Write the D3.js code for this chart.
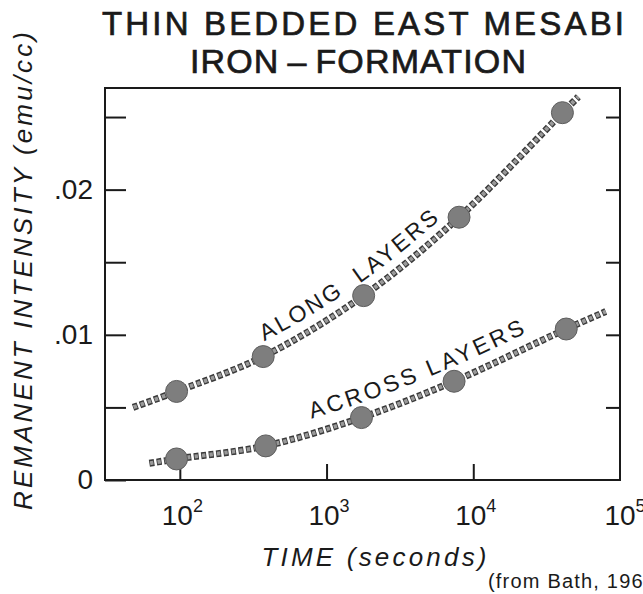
<html>
<head>
<meta charset="utf-8">
<title>Thin bedded East Mesabi iron-formation</title>
<style>
  body { margin: 0; background: #fff; }
  text { font-family: "Liberation Sans", "DejaVu Sans", sans-serif; fill: #1a1a1a; }
</style>
</head>
<body>
<script src="https://cdn.jsdelivr.net/npm/d3@7"></script>
<script>
var width = 643, height = 594;

// measured points (seconds, emu/cc)
var alongTime = [95, 370, 1790, 8000, 40500];
var alongValue = [0.0061, 0.0085, 0.0127, 0.0181, 0.0253];
var acrossTime = [95, 385, 1730, 7400, 43000];
var acrossValue = [0.00145, 0.00235, 0.0043, 0.0068, 0.0104];
// ends of the drawn curves
var alongEndsTime = [48, 52000];
var alongEndsValue = [0.0050, 0.0264];
var acrossEndsTime = [62, 80000];
var acrossEndsValue = [0.00115, 0.0116];

var yTicks = [0, 0.005, 0.01, 0.015, 0.02, 0.025];
var yLabels = ["0", "", ".01", "", ".02", ""];
var xTicks = [100, 1000, 10000];
var xExp = ["2", "3", "4"];

var svg = d3.select("body").append("svg")
    .attr("width", width)
    .attr("height", height);

var x = d3.scaleLog().domain([Math.pow(10, 1.49), 1e5]).range([105, 620]);
var y = d3.scaleLinear().domain([0, 0.027]).range([480, 88]);

// title
svg.append("text").attr("x", 363).attr("y", 35)
    .attr("text-anchor", "middle")
    .attr("font-size", 33)
    .attr("stroke", "#1a1a1a").attr("stroke-width", 0.7)
    .attr("textLength", 522).attr("lengthAdjust", "spacing")
    .text("THIN BEDDED EAST MESABI");
svg.append("text").attr("x", 358).attr("y", 73)
    .attr("text-anchor", "middle")
    .attr("font-size", 34)
    .attr("stroke", "#1a1a1a").attr("stroke-width", 0.7)
    .attr("textLength", 336).attr("lengthAdjust", "spacing")
    .text("IRON\u2009\u2013\u2009FORMATION");

// frame
svg.append("rect")
    .attr("x", 105).attr("y", 88)
    .attr("width", 515).attr("height", 392)
    .attr("fill", "none").attr("stroke", "#1a1a1a").attr("stroke-width", 2);

// axes
var yAxis = d3.axisLeft(y).tickValues(yTicks)
    .tickSizeInner(-21).tickSizeOuter(0).tickPadding(12)
    .tickFormat(function(d, i) { return yLabels[i]; });
var gy = svg.append("g").attr("transform", "translate(105,0)").call(yAxis);
gy.select(".domain").remove();
gy.selectAll(".tick line").attr("stroke", "#1a1a1a").attr("stroke-width", 2);
gy.selectAll(".tick text").attr("font-size", 28).attr("font-family", "Liberation Sans")
    .attr("fill", "#1a1a1a");

var yAxisR = d3.axisRight(y).tickValues(yTicks.slice(1))
    .tickSizeInner(-14).tickSizeOuter(0).tickFormat("");
var gr = svg.append("g").attr("transform", "translate(620,0)").call(yAxisR);
gr.select(".domain").remove();
gr.selectAll(".tick line").attr("stroke", "#1a1a1a").attr("stroke-width", 2);

var xAxis = d3.axisBottom(x).tickValues(xTicks)
    .tickSizeInner(-16).tickSizeOuter(0).tickFormat("");
var gx = svg.append("g").attr("transform", "translate(0,480)").call(xAxis);
gx.select(".domain").remove();
gx.selectAll(".tick line").attr("stroke", "#1a1a1a").attr("stroke-width", 2);
gx.selectAll(".tick text").remove();
gx.selectAll(".tick").each(function(d, i) {
  var t = d3.select(this).append("text")
      .attr("y", 45).attr("x", 2)
      .attr("text-anchor", "middle")
      .attr("font-size", 28)
      .attr("fill", "#1a1a1a");
  t.append("tspan").text("10");
  t.append("tspan").attr("font-size", 18).attr("dy", -13).text(xExp[i]);
});
// 10^5 sits on the right edge
var t5 = svg.append("text").attr("x", x(1e5) + 5).attr("y", 525)
    .attr("text-anchor", "middle").attr("font-size", 28);
t5.append("tspan").text("10");
t5.append("tspan").attr("font-size", 18).attr("dy", -13).text("5");

// axis titles
svg.append("text")
    .attr("transform", "translate(32,271) rotate(-90)")
    .attr("text-anchor", "middle")
    .attr("font-size", 26).attr("font-style", "italic")
    .attr("textLength", 478).attr("lengthAdjust", "spacing")
    .text("REMANENT INTENSITY (emu/cc)");
svg.append("text")
    .attr("x", 374).attr("y", 566)
    .attr("text-anchor", "middle")
    .attr("font-size", 26).attr("font-style", "italic")
    .attr("textLength", 225).attr("lengthAdjust", "spacing")
    .text("TIME (seconds)");
svg.append("text")
    .attr("x", 488).attr("y", 588)
    .attr("font-size", 20).attr("letter-spacing", 1.2)
    .text("(from Bath, 1967)");

// curves
function curvePoints(ts, vs, endT, endV) {
  var pts = ts.map(function(t, i) { return { t: t, v: vs[i] }; });
  pts.unshift({ t: endT[0], v: endV[0] });
  pts.push({ t: endT[1], v: endV[1] });
  return pts;
}
var series = [
  { name: "along", label: "ALONG\u00a0\u00a0LAYERS", startX: 264, size: 23, spacing: 2.6,
    line: curvePoints(alongTime, alongValue, alongEndsTime, alongEndsValue),
    pts: alongTime.map(function(t, i) { return { t: t, v: alongValue[i] }; }) },
  { name: "across", label: "ACROSS LAYERS", startX: 311, size: 23, spacing: 3.2,
    line: curvePoints(acrossTime, acrossValue, acrossEndsTime, acrossEndsValue),
    pts: acrossTime.map(function(t, i) { return { t: t, v: acrossValue[i] }; }) }
];

var line = d3.line()
    .x(function(d) { return x(d.t); })
    .y(function(d) { return y(d.v); })
    .curve(d3.curveCatmullRom.alpha(0.5));
var lineUp = d3.line()
    .x(function(d) { return x(d.t); })
    .y(function(d) { return y(d.v) - 15; })
    .curve(d3.curveCatmullRom.alpha(0.5));

series.forEach(function(s) {
  svg.append("path").attr("d", line(s.line))
      .attr("fill", "none").attr("stroke", "#3a3a3a")
      .attr("stroke-width", 7).attr("stroke-dasharray", "5 2.5");
  svg.append("path").attr("d", line(s.line))
      .attr("fill", "none").attr("stroke", "#9a9a9a")
      .attr("stroke-width", 4).attr("stroke-dasharray", "3.4 4.1")
      .attr("stroke-dashoffset", -0.8);

  svg.selectAll("circle." + s.name)
    .data(s.pts)
    .enter()
    .append("circle")
      .attr("class", s.name)
      .attr("cx", function(d) { return x(d.t); })
      .attr("cy", function(d) { return y(d.v); })
      .attr("r", 11)
      .attr("fill", "#7e7e7e")
      .attr("stroke", "#5e5e5e").attr("stroke-width", 1);

  // label running along the curve
  var guide = svg.append("path").attr("id", "guide-" + s.name)
      .attr("d", lineUp(s.line)).attr("fill", "none").attr("stroke", "none");
  var node = guide.node(), total = node.getTotalLength(), off = 0;
  for (var l = 0; l < total; l += 1) {
    if (node.getPointAtLength(l).x >= s.startX) { off = l; break; }
  }
  svg.append("text")
      .attr("font-size", s.size).attr("letter-spacing", s.spacing)
    .append("textPath")
      .attr("href", "#guide-" + s.name)
      .attr("startOffset", off)
      .text(s.label);
});
</script>
</body>
</html>
